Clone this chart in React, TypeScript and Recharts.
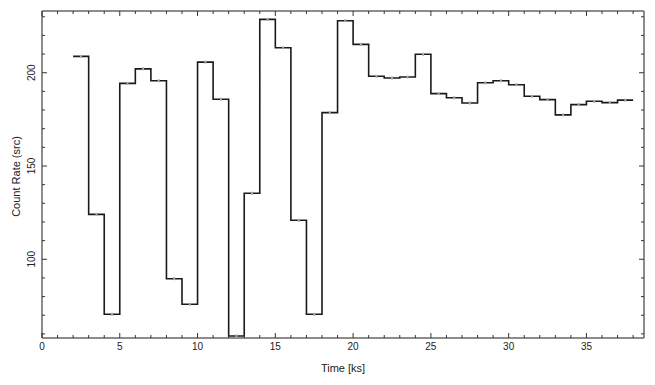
import React from 'react';
import { ComposedChart, Line, XAxis, YAxis } from 'recharts';

// Bin edges in ks (36 bins of the light curve)
const binEdges = [2, 3, 4, 5, 6, 7, 8, 9, 10, 11, 12, 13, 14, 15, 16, 17, 18, 19, 20, 21, 22, 23, 24, 25, 26, 27, 28, 29, 30, 31, 32, 33, 34, 35, 36, 37, 38];
// Count rate for each bin
const countRates = [
  208.8, 124.1, 70.5, 194.3, 202.1, 195.7, 89.6, 75.9, 205.7, 185.8,
  58.9, 135.4, 228.6, 213.4, 120.9, 70.5, 178.6, 227.9, 215.2, 198.1,
  197.2, 197.7, 209.9, 188.8, 186.6, 183.8, 194.6, 195.7, 193.6, 187.4,
  185.6, 177.4, 182.9, 184.7, 184.0, 185.3,
];
const xTicks = [0, 1, 2, 3, 4, 5, 6, 7, 8, 9, 10, 11, 12, 13, 14, 15, 16, 17, 18, 19, 20, 21, 22, 23, 24, 25, 26, 27, 28, 29, 30, 31, 32, 33, 34, 35, 36, 37, 38];
const xLabeled = [0, 5, 10, 15, 20, 25, 30, 35];
const yTicks = [60, 70, 80, 90, 100, 110, 120, 130, 140, 150, 160, 170, 180, 190, 200, 210, 220, 230];
const yLabeled = [100, 150, 200];
const xDomain = [0, 38.7];
const yDomain = [57.8, 233.1];

const stepData = binEdges.map((t, i) => ({
  t,
  rate: i < countRates.length ? countRates[i] : countRates[countRates.length - 1],
}));
const centerData = countRates.map((r, i) => ({ t: (binEdges[i] + binEdges[i + 1]) / 2, rate: r }));

const FONT = '"Liberation Sans", Arial, Helvetica, sans-serif';
const FRAME = '#666';
const TICK = '#333';

const BottomTick = (props: any) => {
  const { x, y, payload } = props;
  const major = xLabeled.includes(payload.value);
  return (
    <g>
      <line x1={x} x2={x} y1={y} y2={y - (major ? 5 : 3)} stroke={TICK} strokeWidth={1} />
      {major && (
        <text x={x} y={y + 12} textAnchor="middle" fontSize={10} fontFamily={FONT} fill="#222">
          {payload.value}
        </text>
      )}
    </g>
  );
};

const TopTick = (props: any) => {
  const { x, y, payload } = props;
  const major = xLabeled.includes(payload.value);
  return <line x1={x} x2={x} y1={y} y2={y + (major ? 5 : 3)} stroke={TICK} strokeWidth={1} />;
};

const LeftTick = (props: any) => {
  const { x, y, payload } = props;
  const major = yLabeled.includes(payload.value);
  const cx = 31.5;
  return (
    <g>
      <line x1={x} x2={x + (major ? 5 : 3)} y1={y} y2={y} stroke={TICK} strokeWidth={1} />
      {major && (
        <text
          x={cx}
          y={y}
          dy="0.35em"
          textAnchor="middle"
          fontSize={10}
          fontFamily={FONT}
          fill="#222"
          transform={`rotate(-90, ${cx}, ${y})`}
        >
          {payload.value}
        </text>
      )}
    </g>
  );
};

const RightTick = (props: any) => {
  const { x, y, payload } = props;
  const major = yLabeled.includes(payload.value);
  return <line x1={x} x2={x - (major ? 5 : 3)} y1={y} y2={y} stroke={TICK} strokeWidth={1} />;
};

const Marker = (props: any) => {
  const { cx, cy } = props;
  if (cx == null || cy == null) return null;
  return <rect x={cx - 1} y={cy - 1.5} width={2} height={3} fill="#aaa" />;
};

export default function App() {
  return (
    <div style={{ position: 'absolute', left: 0, top: 0, background: '#fff' }}>
      <ComposedChart width={655} height={385} margin={{ top: 10, right: 10, bottom: 0, left: 0 }}>
        <XAxis
          dataKey="t"
          type="number"
          domain={xDomain}
          ticks={xTicks}
          interval={0}
          allowDataOverflow
          tickLine={false}
          tickSize={0}
          tickMargin={0}
          tick={<BottomTick />}
          axisLine={{ stroke: FRAME, strokeWidth: 1.5 }}
          height={47}
          label={{
            content: (p: any) => {
              const vb = p.viewBox || {};
              return (
                <text x={vb.x + vb.width / 2} y={372} textAnchor="middle" fontSize={11} fontFamily={FONT} fill="#222">
                  Time [ks]
                </text>
              );
            },
          }}
        />
        <XAxis
          xAxisId="top"
          orientation="top"
          dataKey="t"
          type="number"
          domain={xDomain}
          ticks={xTicks}
          interval={0}
          allowDataOverflow
          tickLine={false}
          tickSize={0}
          tickMargin={0}
          tick={<TopTick />}
          axisLine={{ stroke: FRAME, strokeWidth: 1.5 }}
          height={1}
        />
        <YAxis
          type="number"
          domain={yDomain}
          ticks={yTicks}
          interval={0}
          allowDataOverflow
          tickLine={false}
          tickSize={0}
          tickMargin={0}
          tick={<LeftTick />}
          axisLine={{ stroke: FRAME, strokeWidth: 1.5 }}
          width={42}
          label={{
            content: (p: any) => {
              const vb = p.viewBox || {};
              const cy = 176.5;
              const cx = 16.5;
              return (
                <text
                  x={cx}
                  y={cy}
                  dy="0.35em"
                  textAnchor="middle"
                  fontSize={11}
                  fontFamily={FONT}
                  fill="#222"
                  transform={`rotate(-90, ${cx}, ${cy})`}
                >
                  Count Rate (src)
                </text>
              );
            },
          }}
        />
        <YAxis
          yAxisId="right"
          orientation="right"
          type="number"
          domain={yDomain}
          ticks={yTicks}
          interval={0}
          allowDataOverflow
          tickLine={false}
          tickSize={0}
          tickMargin={0}
          tick={<RightTick />}
          axisLine={{ stroke: FRAME, strokeWidth: 1.5 }}
          width={1}
        />
        <Line
          data={stepData}
          dataKey="rate"
          type="stepAfter"
          stroke="#1a1a1a"
          strokeWidth={1.6}
          dot={false}
          activeDot={false}
          isAnimationActive={false}
        />
        <Line
          data={centerData}
          dataKey="rate"
          stroke="none"
          dot={<Marker />}
          activeDot={false}
          isAnimationActive={false}
        />
      </ComposedChart>
    </div>
  );
}
